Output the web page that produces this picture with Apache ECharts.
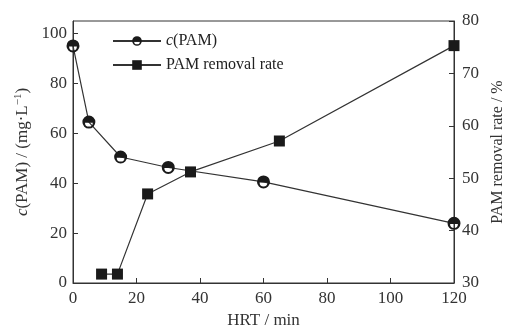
<!DOCTYPE html>
<html><head><meta charset="utf-8">
<script src="https://cdn.jsdelivr.net/npm/echarts@6/dist/echarts.min.js"></script>
<style>html,body{margin:0;padding:0;background:#fff}#c{width:505px;height:328px}</style>
</head><body><div id="c"></div>
<script>
const hrtConc = [0, 5, 15, 30, 60, 120];
const concValues = [95, 64.5, 50.5, 46.3, 40.5, 23.9];
const hrtRate = [9, 14, 23.5, 37, 65, 120];
const rateValues = [31.7, 31.7, 47.0, 51.2, 57.1, 75.3];
const xTicks = [0, 20, 40, 60, 80, 100, 120];
const leftTicks = [0, 20, 40, 60, 80, 100];
const rightTicks = [30, 40, 50, 60, 70, 80];

const font = 'Liberation Serif';
const halfCircle = 'path://M0,10 A10,10 0 1,1 20,10 A10,10 0 1,1 0,10 Z M16,11 L4,11 A6,6 0 0,0 16,11 Z';
const chart = echarts.init(document.getElementById('c'));
chart.setOption({
  animation: false,
  backgroundColor: '#fff',
  textStyle: { fontFamily: font },
  grid: { left: 73, right: 51, top: 21, bottom: 45, show: true, borderColor: '#333', borderWidth: 1,
    containLabel: false, outerBoundsMode: 'none' },
  legend: {
    orient: 'vertical', left: 107, top: 28, itemWidth: 48, itemHeight: 12, itemGap: 8,
    textStyle: { fontFamily: font, fontSize: 16, color: '#222',
      rich: { i: { fontStyle: 'italic', fontFamily: font, fontSize: 16, color: '#222' }, n: { fontFamily: font, fontSize: 16, color: '#222' } } },
    formatter: function (n) { return n === 'c(PAM)' ? '{i|c}{n|(PAM)}' : n; },
    data: ['c(PAM)', 'PAM removal rate']
  },
  xAxis: {
    type: 'value', min: 0, max: 120, interval: 20,
    name: 'HRT / min', nameLocation: 'middle', nameGap: 29,
    nameTextStyle: { fontFamily: font, fontSize: 17, color: '#333' },
    axisLine: { lineStyle: { color: '#333', width: 1 } },
    axisTick: { inside: true, length: 5, lineStyle: { color: '#333' } },
    axisLabel: { fontFamily: font, fontSize: 17, color: '#333', margin: 7,
      customValues: xTicks },
    splitLine: { show: false }
  },
  yAxis: [{
    type: 'value', min: 0, max: 105, interval: 20, position: 'left',
    name: '{i|c}(PAM) / (mg·L{s|−1})', nameLocation: 'middle', nameGap: 36, nameRotate: 90,
    nameTextStyle: { fontFamily: font, fontSize: 17, color: '#333',
      rich: { i: { fontStyle: 'italic', fontFamily: font, fontSize: 17, color: '#333' }, s: { fontSize: 11, verticalAlign: 'bottom', padding: [0, 0, 8, 0], fontFamily: font, color: '#333' } } },
    axisLine: { show: true, lineStyle: { color: '#333', width: 1 } },
    axisTick: { inside: true, length: 5, lineStyle: { color: '#333' }, customValues: leftTicks },
    axisLabel: { fontFamily: font, fontSize: 17, color: '#333', margin: 6, customValues: leftTicks },
    splitLine: { show: false }
  }, {
    type: 'value', min: 30, max: 80, interval: 10, position: 'right',
    name: 'PAM removal rate / %', nameLocation: 'middle', nameGap: 32, nameRotate: 90,
    nameTextStyle: { fontFamily: font, fontSize: 16, color: '#333' },
    axisLine: { show: true, lineStyle: { color: '#333', width: 1 } },
    axisTick: { inside: true, length: 5, lineStyle: { color: '#333' } },
    axisLabel: { fontFamily: font, fontSize: 17, color: '#333', margin: 8, customValues: rightTicks },
    splitLine: { show: false }
  }],
  series: [{
    name: 'c(PAM)', type: 'line', yAxisIndex: 0,
    data: hrtConc.map((x, i) => [x, concValues[i]]),
    symbol: halfCircle, symbolSize: 13,
    lineStyle: { color: '#333', width: 1.2 },
    itemStyle: { color: '#1a1a1a', borderWidth: 0 },
    z: 3
  }, {
    name: 'PAM removal rate', type: 'line', yAxisIndex: 1,
    data: hrtRate.map((x, i) => [x, rateValues[i]]),
    symbol: 'rect', symbolSize: 11,
    lineStyle: { color: '#333', width: 1.2 },
    itemStyle: { color: '#1a1a1a' },
    z: 4
  }]
});
</script></body></html>
